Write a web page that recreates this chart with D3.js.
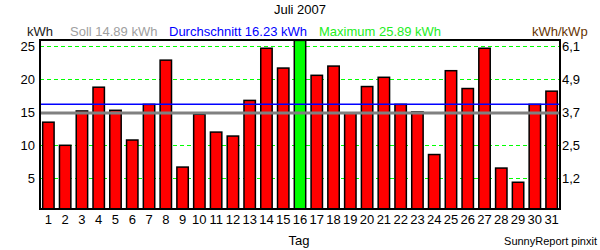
<!DOCTYPE html>
<html>
<head>
<meta charset="utf-8">
<script src="https://cdn.jsdelivr.net/npm/d3@7"></script>
<style>
  body { margin: 0; background: #fff; }
  text { font-family: "Liberation Sans", Arial, sans-serif; }
</style>
</head>
<body>
<div id="chart"></div>
<script>
// Tagesertrag Juli 2007 (kWh)
const days = d3.range(1, 32);
const dailyKwh = [13.5, 10.0, 15.2, 18.8, 15.3, 10.8, 16.2, 22.9, 6.7, 14.7,
                  12.0, 11.4, 16.8, 24.7, 21.7, 25.89, 20.6, 22.0, 14.9, 18.9,
                  20.3, 16.2, 15.05, 8.6, 21.3, 18.6, 24.7, 6.55, 4.4, 16.2, 18.2];
const sollKwh = 14.89;
const leftTicks = [5, 10, 15, 20, 25];
const rightTickLabels = ["1,2", "2,5", "3,7", "4,9", "6,1"];
const title = "Juli 2007";

const width = 600, height = 250;
const plot = {left: 40, right: 560, top: 40, bottom: 209};

const svg = d3.select("#chart").append("svg")
    .attr("width", width)
    .attr("height", height);

const maxKwh = d3.max(dailyKwh);
const meanKwh = d3.mean(dailyKwh);
const fmt = d3.format(".2f");

const x = d3.scaleBand()
    .domain(days)
    .range([plot.left, plot.right]);

const y = d3.scaleLinear()
    .domain([0, maxKwh])
    .range([211.3, 40.4]);

// green dashed grid
svg.append("g")
    .selectAll("line")
    .data(leftTicks)
    .enter().append("line")
    .attr("x1", plot.left).attr("x2", plot.right)
    .attr("y1", d => Math.round(y(d)) + 0.5)
    .attr("y2", d => Math.round(y(d)) + 0.5)
    .attr("stroke", "#00ff00")
    .attr("stroke-dasharray", "4,3");

// bars
const barW = x.bandwidth() * 0.68;
svg.append("g")
    .selectAll("rect")
    .data(dailyKwh)
    .enter().append("rect")
    .attr("x", (d, i) => x(days[i]) + (x.bandwidth() - barW) / 2)
    .attr("y", d => y(d))
    .attr("width", barW)
    .attr("height", d => plot.bottom - y(d))
    .attr("fill", d => d === maxKwh ? "#00ff00" : "#ff0000")
    .attr("stroke", "#000")
    .attr("stroke-width", 1.5);

// Soll and Durchschnitt lines
svg.append("line")
    .attr("x1", plot.left).attr("x2", plot.right)
    .attr("y1", y(sollKwh)).attr("y2", y(sollKwh))
    .attr("stroke", "#808080")
    .attr("stroke-width", 3);
svg.append("line")
    .attr("x1", plot.left).attr("x2", plot.right)
    .attr("y1", y(meanKwh)).attr("y2", y(meanKwh))
    .attr("stroke", "#0000ff")
    .attr("stroke-width", 1.5);

// frame
svg.append("rect")
    .attr("x", plot.left).attr("y", plot.top)
    .attr("width", plot.right - plot.left)
    .attr("height", plot.bottom - plot.top)
    .attr("fill", "none")
    .attr("stroke", "#000")
    .attr("stroke-width", 2);

// left axis
const leftAxis = svg.append("g")
    .attr("transform", `translate(${plot.left - 1},0)`)
    .call(d3.axisLeft(y).tickValues(leftTicks).tickSize(0).tickPadding(4));
leftAxis.select(".domain").remove();
leftAxis.selectAll("text").attr("font-size", 13).attr("fill", "#000")
    .style("font-family", "'Liberation Sans', Arial, sans-serif");

// right axis (kWh/kWp)
const rightAxis = svg.append("g")
    .attr("transform", `translate(${plot.right + 1},0)`)
    .call(d3.axisRight(y).tickValues(leftTicks).tickSize(0).tickPadding(1)
        .tickFormat((d, i) => rightTickLabels[i]));
rightAxis.select(".domain").remove();
rightAxis.selectAll("text").attr("font-size", 13).attr("fill", "#000")
    .style("font-family", "'Liberation Sans', Arial, sans-serif");

// bottom axis
const bottomAxis = svg.append("g")
    .attr("transform", `translate(0,${plot.bottom})`)
    .call(d3.axisBottom(x).tickSize(0).tickPadding(6));
bottomAxis.select(".domain").remove();
bottomAxis.selectAll("text").attr("font-size", 13).attr("fill", "#000")
    .style("font-family", "'Liberation Sans', Arial, sans-serif");

// texts
svg.append("text").attr("x", 300).attr("y", 14)
    .attr("text-anchor", "middle").attr("font-size", 13).text(title);

const header = [
    {x: 27, text: "kWh", color: "#1a1a1a"},
    {x: 70, text: `Soll ${fmt(sollKwh)} kWh`, color: "#a0a0a0"},
    {x: 169, text: `Durchschnitt ${fmt(meanKwh)} kWh`, color: "#0000ff"},
    {x: 319, text: `Maximum ${fmt(maxKwh)} kWh`, color: "#22ee22"},
    {x: 532, text: "kWh/kWp", color: "#663300"}
];
svg.append("g").selectAll("text")
    .data(header)
    .enter().append("text")
    .attr("x", d => d.x).attr("y", 36)
    .attr("font-size", 13)
    .attr("fill", d => d.color)
    .text(d => d.text);

svg.append("text").attr("x", 299).attr("y", 245)
    .attr("text-anchor", "middle").attr("font-size", 13).text("Tag");

svg.append("text").attr("x", 597).attr("y", 245)
    .attr("text-anchor", "end").attr("font-size", 11).text("SunnyReport pinxit");
</script>
</body>
</html>
